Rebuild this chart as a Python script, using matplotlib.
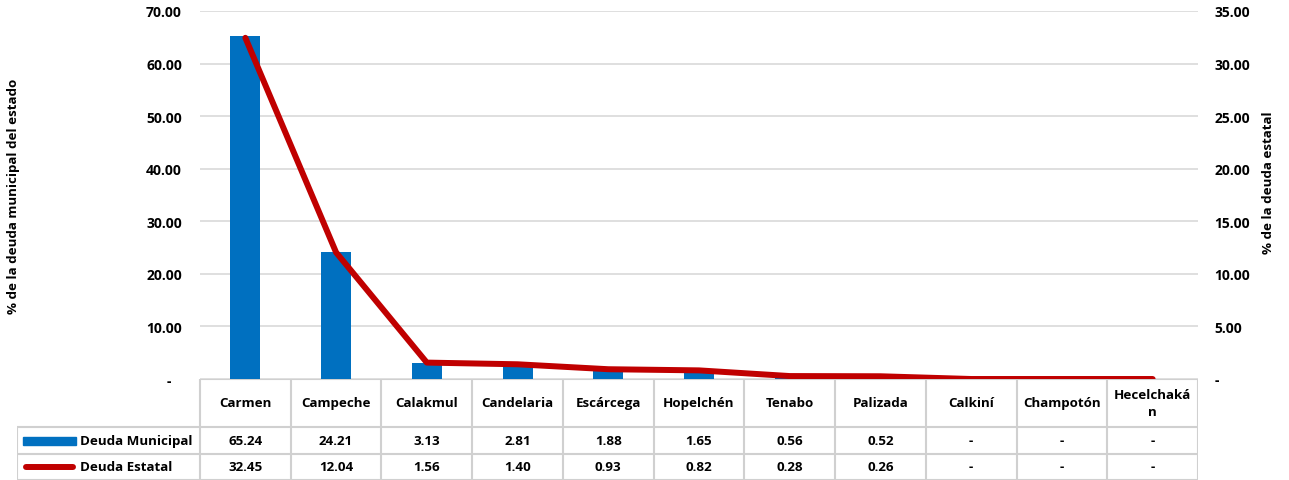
import numpy as np
import matplotlib
matplotlib.use("Agg")
import matplotlib.pyplot as plt

municipios = ["Carmen", "Campeche", "Calakmul", "Candelaria", "Escárcega",
              "Hopelchén", "Tenabo", "Palizada", "Calkiní", "Champotón",
              "Hecelchaká\nn"]
deuda_municipal = [65.24, 24.21, 3.13, 2.81, 1.88, 1.65, 0.56, 0.52, 0.0, 0.0, 0.0]
deuda_estatal = [32.45, 12.04, 1.56, 1.40, 0.93, 0.82, 0.28, 0.26, 0.0, 0.0, 0.0]
left_ticks = [0, 10, 20, 30, 40, 50, 60, 70]
right_ticks = [0, 5, 10, 15, 20, 25, 30, 35]

BLUE = "#0070C0"
RED = "#C00000"
GRID = "#D9D9D9"
FONT = "Open Sans"
FS = 9.6

W, H = 1289, 481
plt.rcParams["font.family"] = [FONT, "DejaVu Sans"]
plt.rcParams["font.weight"] = "bold"


def fmt(v):
    return "-" if v == 0 else f"{v:.2f}"


fig = plt.figure(figsize=(W / 100, H / 100), dpi=100)

# plot area in pixels
x0, x1, ytop, ybot = 200, 1198, 12, 380
ax = fig.add_axes([x0 / W, 1 - ybot / H, (x1 - x0) / W, (ybot - ytop) / H])
ax2 = ax.twinx()

n = len(municipios)
x = np.arange(n)
ax.bar(x, deuda_municipal, width=0.33, color=BLUE, zorder=2)
ax2.plot(x, deuda_estatal, color=RED, lw=4.3, solid_capstyle="round", zorder=3)

ax.set_xlim(-0.5, n - 0.5)
ax.set_ylim(0, 70)
ax2.set_ylim(0, 35)
ax.set_yticks(left_ticks)
ax.set_yticklabels([fmt(v) if v else "-   " for v in left_ticks],
                   fontsize=FS + 0.4, fontweight="bold")
ax2.set_yticks(right_ticks)
ax2.set_yticklabels([fmt(v) for v in right_ticks], fontsize=FS + 0.4, fontweight="bold")
ax.set_xticks([])
ax.grid(axis="y", color=GRID, lw=1.2, zorder=0)
ax.set_axisbelow(True)
for a in (ax, ax2):
    for s in a.spines.values():
        s.set_visible(False)
    a.tick_params(axis="y", length=0)
ax.tick_params(axis="y", pad=13)
ax2.tick_params(axis="y", pad=12)

fig.text(14 / W, 1 - 196 / H, "% de la deuda municipal del estado", rotation=90,
         ha="center", va="center", fontsize=FS, fontweight="bold")
fig.text(1268 / W, 1 - 183 / H, "% de la deuda estatal", rotation=90,
         ha="center", va="center", fontsize=FS, fontweight="bold")

# data table below the plot
unit = (x1 - x0) / n
left_px = 17
tax = fig.add_axes([left_px / W, 0, (x1 - left_px) / W, (H - ybot) / H])
xl = -0.5 - (x0 - left_px) / unit
tax.set_xlim(xl, n - 0.5)
tax.set_ylim(0, H - ybot)
tax.axis("off")
r0, r1, r2, r3 = 0, 26, 53, H - ybot
lc = dict(color="#D0D0D0", lw=1.5, solid_capstyle="butt")
tax.plot([-0.5, n - 0.5], [r3, r3], **lc)
tax.plot([xl, n - 0.5], [r2, r2], **lc)
tax.plot([xl, n - 0.5], [r1, r1], **lc)
tax.plot([xl, n - 0.5], [r0 + 0.5, r0 + 0.5], **lc)
tax.plot([xl, xl], [r0, r2], **lc)
for k in range(n + 1):
    tax.plot([k - 0.5, k - 0.5], [r0, r3], **lc)

for k, name in enumerate(municipios):
    tax.text(k, (r2 + r3) / 2, name, ha="center", va="center", fontsize=FS,
             fontweight="bold", linespacing=1.45)
    tax.text(k, (r1 + r2) / 2, fmt(deuda_municipal[k]), ha="center", va="center",
             fontsize=FS, fontweight="bold")
    tax.text(k, (r0 + r1) / 2, fmt(deuda_estatal[k]), ha="center", va="center",
             fontsize=FS, fontweight="bold")

kx0 = xl + 6 / unit
kx1 = xl + 59 / unit
tax.add_patch(plt.Rectangle((kx0, (r1 + r2) / 2 - 4), kx1 - kx0, 8, color=BLUE))
tax.plot([kx0 + 0.03, kx1 - 0.03], [(r0 + r1) / 2] * 2, color=RED, lw=4.3,
         solid_capstyle="round")
tax.text(xl + 63 / unit, (r1 + r2) / 2, "Deuda Municipal", ha="left", va="center",
         fontsize=FS, fontweight="bold")
tax.text(xl + 63 / unit, (r0 + r1) / 2, "Deuda Estatal", ha="left", va="center",
         fontsize=FS, fontweight="bold")

fig.savefig("out.png", dpi=100)
